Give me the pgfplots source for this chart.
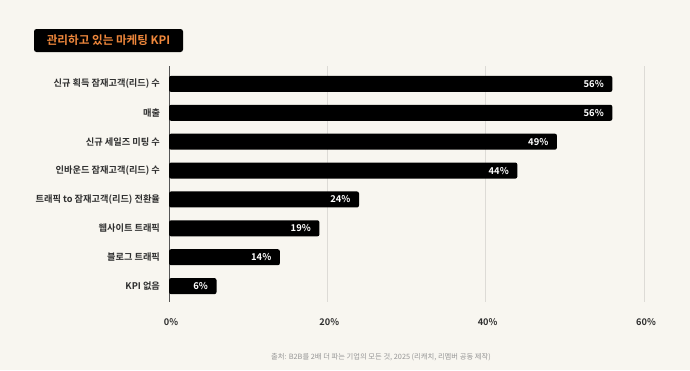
\documentclass[border=0pt]{standalone}
\usepackage{fontspec}
\setmainfont{Noto Sans CJK KR}[BoldFont={* Bold}]
\usepackage{pgfplots}
\pgfplotsset{compat=1.18}
\definecolor{bg}{HTML}{F8F6F0}
\definecolor{ttl}{HTML}{F0883C}
\definecolor{gridc}{HTML}{DDDBD6}
\definecolor{axc}{HTML}{555555}
\definecolor{lab}{HTML}{2E2E2E}
\definecolor{foot}{HTML}{959595}
\begin{document}
\begin{tikzpicture}
\fill[bg] (0pt,0pt) rectangle (690pt,-370pt);
\node[fill=black, rounded corners=2.5pt, minimum width=149pt, minimum height=23pt, inner sep=0pt,
      text=ttl, font=\bfseries\fontsize{11.6}{13}\selectfont] at (108.5pt,-40.5pt) {관리하고 있는 마케팅 KPI};
\begin{axis}[
  at={(169pt,-66pt)}, anchor=north west,
  scale only axis, width=475pt, height=236pt,
  xbar, bar width=16pt,
  xmin=0, xmax=60, ymin=-0.62, ymax=7.55, y dir=reverse,
  axis lines*=left,
  x axis line style={draw=none},
  y axis line style={draw=axc, line width=1pt},
  xtick={0,20,40,60},
  xticklabels={0\%,20\%,40\%,60\%},
  ytick={0,1,2,3,4,5,6,7},
  yticklabels={신규 획득 잠재고객(리드) 수, 매출, 신규 세일즈 미팅 수, 인바운드 잠재고객(리드) 수, 트래픽 to 잠재고객(리드) 전환율, 웹사이트 트래픽, 블로그 트래픽, KPI 없음},
  major tick length=0pt,
  xmajorgrids, grid style={draw=gridc, line width=0.8pt},
  /pgf/number format/assume math mode=true,
  ticklabel style={font=\bfseries\fontsize{9.2}{10}\selectfont, text=lab},
  xticklabel style={yshift=-13pt, xshift=2pt},
  yticklabel style={xshift=-5.5pt},
  nodes near coords={\pgfmathprintnumber{\pgfplotspointmeta}\%},
  nodes near coords style={anchor=east, xshift=-5pt, text=white, font=\bfseries\fontsize{9.4}{10}\selectfont},
  point meta=x,
  clip=false,
]
\addplot[fill=black, draw=none, rounded corners=2pt] coordinates {
 (56,0) (56,1) (49,2) (44,3) (24,4) (19,5) (14,6) (6,7)
};
\end{axis}
\node[text=foot, font=\fontsize{7.3}{8}\selectfont] at (381pt,-357pt) {출처: B2B를 2배 더 파는 기업의 모든 것, 2025 (리캐치, 리멤버 공동 제작)};
\end{tikzpicture}
\end{document}
